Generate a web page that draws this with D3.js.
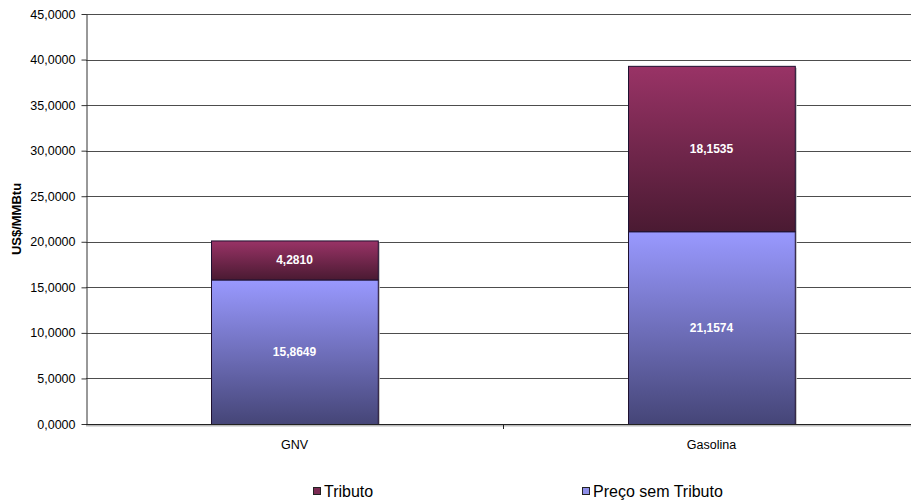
<!DOCTYPE html>
<html>
<head>
<meta charset="utf-8">
<script src="https://cdn.jsdelivr.net/npm/d3@7/dist/d3.min.js"></script>
<style>
  html, body { margin: 0; padding: 0; background: #fff; }
  svg { display: block; font-family: Arial, "Liberation Sans", sans-serif; }
</style>
</head>
<body>
<svg id="chart" width="911" height="504"></svg>
<script>
// Fuel price composition (US$/MMBtu)
const categories = ["GNV", "Gasolina"];
const precoSemTributo = [15.8649, 21.1574];
const tributo = [4.2810, 18.1535];
const seriesNames = ["Tributo", "Preço sem Tributo"];
const yTicks = [0, 5, 10, 15, 20, 25, 30, 35, 40, 45];

const W = 911, H = 504;
const margin = { left: 86, right: -9, top: 14, bottom: 80 };

const svg = d3.select("#chart");
const ptBR = d3.formatLocale({ decimal: ",", thousands: ".", grouping: [3], currency: ["R$", ""] });
const fmt4 = ptBR.format(".4f");

const x = d3.scaleBand().domain(categories).range([margin.left, W - margin.right]);
const y = d3.scaleLinear().domain([0, 45]).range([H - margin.bottom, margin.top]);

// gradients
const defs = svg.append("defs");
function grad(id, top, bottom) {
  const g = defs.append("linearGradient").attr("id", id)
    .attr("x1", 0).attr("y1", 0).attr("x2", 0).attr("y2", 1);
  g.append("stop").attr("offset", "0%").attr("stop-color", top);
  g.append("stop").attr("offset", "100%").attr("stop-color", bottom);
}
grad("gTrib", "#993366", "#4a1a32");
grad("gPreco", "#9999ff", "#454577");

// gridlines
svg.append("g").selectAll("line").data(yTicks.filter(d => d > 0)).join("line")
  .attr("x1", margin.left).attr("x2", W)
  .attr("y1", d => Math.round(y(d)) + 0.5).attr("y2", d => Math.round(y(d)) + 0.5)
  .attr("stroke", "#4d4d4d").attr("stroke-width", 1);

// y axis
const yAxis = d3.axisLeft(y).tickValues(yTicks).tickFormat(fmt4).tickSize(5).tickSizeOuter(0);
const gy = svg.append("g").attr("transform", `translate(${margin.left + 0.5},0)`).call(yAxis);
gy.select(".domain").attr("stroke", "#333");
gy.selectAll(".tick line").attr("stroke", "#333");
gy.selectAll(".tick text").attr("font-size", 12.5).attr("fill", "#000").attr("x", -11)
  .attr("font-family", "Arial, 'Liberation Sans', sans-serif");

// bars
const bw = x.bandwidth() * 0.4;
const stacks = categories.map((c, i) => ({
  cat: c,
  segs: [
    { name: "Preço sem Tributo", v0: 0, v1: precoSemTributo[i], fill: "url(#gPreco)", val: precoSemTributo[i] },
    { name: "Tributo", v0: precoSemTributo[i], v1: precoSemTributo[i] + tributo[i], fill: "url(#gTrib)", val: tributo[i] }
  ]
}));

const bars = svg.append("g");
stacks.forEach(s => {
  const cx = x(s.cat) + x.bandwidth() / 2;
  const x0 = Math.round(cx - bw / 2);
  const top = y(s.segs[1].v1);
  // soft shadow on the right
  bars.append("rect").attr("x", x0 + 2).attr("y", top + 2).attr("width", bw).attr("height", y(0) - top - 2)
    .attr("fill", "#bdbdbd");
  s.segs.forEach(seg => {
    bars.append("rect")
      .attr("x", x0 + 0.5).attr("y", y(seg.v1) + 0.5)
      .attr("width", bw).attr("height", y(seg.v0) - y(seg.v1))
      .attr("fill", seg.fill).attr("stroke", "#1e1030").attr("stroke-width", 1);
    bars.append("text")
      .attr("x", cx).attr("y", (y(seg.v0) + y(seg.v1)) / 2 + 4.5)
      .attr("text-anchor", "middle").attr("font-size", 12).attr("font-weight", "bold")
      .attr("fill", "#fff").text(fmt4(seg.val));
  });
});

// x axis
const xAxis = d3.axisBottom(x).tickSize(0).tickSizeOuter(0);
const gx = svg.append("g").attr("transform", `translate(0,${y(0)})`).call(xAxis);
gx.select(".domain").remove();
gx.append("line").attr("x1", margin.left).attr("x2", W).attr("y1", 1.5).attr("y2", 1.5)
  .attr("stroke", "#bbb").attr("stroke-width", 2);
gx.append("line").attr("x1", margin.left).attr("x2", W).attr("y1", 0.5).attr("y2", 0.5)
  .attr("stroke", "#222").attr("stroke-width", 1);
// category separators
gx.append("g").selectAll("line").data(categories.slice(1)).join("line")
  .attr("x1", d => Math.round(x(d)) + 0.5).attr("x2", d => Math.round(x(d)) + 0.5)
  .attr("y1", 0).attr("y2", 5).attr("stroke", "#222");
gx.selectAll(".tick text").attr("font-size", 12.5).attr("fill", "#000").attr("dy", "1.75em")
  .attr("font-family", "Arial, 'Liberation Sans', sans-serif");

// y title
svg.append("text").attr("transform", `translate(21,${(y(0) + y(45)) / 2}) rotate(-90)`)
  .attr("text-anchor", "middle").attr("font-size", 13).attr("font-weight", "bold").text("US$/MMBtu");

// legend
const legendColors = ["#7a2a52", "#8e8ee8"];
const legendX = [313, 582];
const lg = svg.append("g");
seriesNames.forEach((n, i) => {
  lg.append("rect").attr("x", legendX[i] + 0.5).attr("y", 487.5).attr("width", 7).attr("height", 7)
    .attr("fill", legendColors[i]).attr("stroke", "#222").attr("stroke-width", 1);
  lg.append("text").attr("x", legendX[i] + 11).attr("y", 497).attr("font-size", 16).text(n);
});
</script>
</body>
</html>
